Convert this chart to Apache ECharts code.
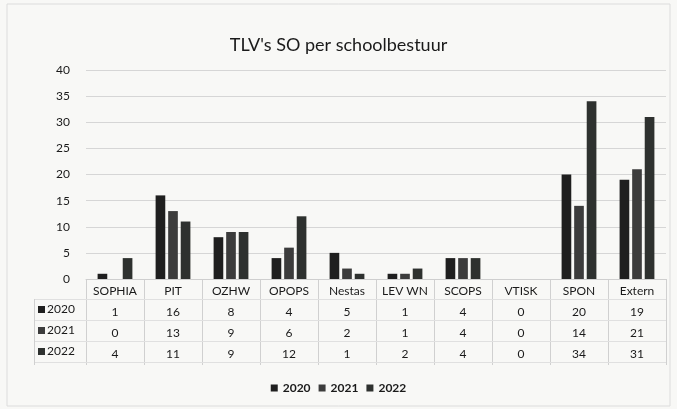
<!DOCTYPE html>
<html lang="nl">
<head>
    <meta charset="UTF-8">
    <title>TLV's SO per schoolbestuur</title>
    <script src="https://cdn.jsdelivr.net/npm/echarts@6/dist/echarts.min.js"></script>
    <style>
        html, body { margin: 0; padding: 0; background: #f8f8f6; }
        #chart { width: 677px; height: 409px; }
    </style>
</head>
<body>
<div id="chart"></div>
<script>
    // data
    const categories = ['SOPHIA', 'PIT', 'OZHW', 'OPOPS', 'Nestas', 'LEV WN', 'SCOPS', 'VTISK', 'SPON', 'Extern'];
    const years = ['2020', '2021', '2022'];
    const v2020 = [1, 16, 8, 4, 5, 1, 4, 0, 20, 19];
    const v2021 = [0, 13, 9, 6, 2, 1, 4, 0, 14, 21];
    const v2022 = [4, 11, 9, 12, 1, 2, 4, 0, 34, 31];
    const yearValues = [v2020, v2021, v2022];
    const colors = ['#1f1f1f', '#3c3c3c', '#2e312f'];

    const font = 'Lato, "Open Sans", sans-serif';
    const rowH = 21;

    const myChart = echarts.init(document.getElementById('chart'));

    const option = {
        backgroundColor: '#f8f8f6',
        animation: false,
        textStyle: { fontFamily: font },
        title: {
            text: "TLV's SO per schoolbestuur",
            left: 'center',
            top: 31,
            textStyle: { fontFamily: font, fontSize: 18, fontWeight: 'normal', color: '#1a1a1a' }
        },
        legend: {
            bottom: 10,
            left: 'center',
            itemWidth: 7,
            itemHeight: 7,
            itemGap: 8,
            icon: 'rect',
            textStyle: { fontFamily: font, fontSize: 12, fontWeight: 'bold', color: '#1a1a1a' },
            data: years
        },
        grid: { left: 86, right: 11, top: 70, bottom: 130 },
        xAxis: {
            type: 'category',
            data: categories,
            axisTick: { show: false },
            axisLine: { lineStyle: { color: '#cfcfcf' } },
            axisLabel: {
                interval: 0,
                margin: 2,
                formatter: function (val, idx) {
                    let s = '{c|' + val + '}';
                    yearValues.forEach(function (arr) { s += '\n{v|' + arr[idx] + '}'; });
                    return s;
                },
                rich: {
                    c: { fontFamily: font, fontSize: 12, color: '#1a1a1a', lineHeight: rowH },
                    v: { fontFamily: font, fontSize: 12, color: '#1a1a1a', lineHeight: rowH }
                }
            }
        },
        yAxis: {
            type: 'value',
            min: 0,
            max: 40,
            interval: 5,
            axisLabel: { fontFamily: font, fontSize: 12, color: '#1a1a1a', margin: 16 },
            splitLine: { lineStyle: { color: '#d6d6d6' } }
        },
        series: years.map(function (y, i) {
            return {
                name: y,
                type: 'bar',
                data: yearValues[i],
                barGap: '30%',
                barCategoryGap: '40%',
                itemStyle: { color: colors[i] }
            };
        })
    };
    myChart.setOption(option);

    // data table lines and row headers, positioned from the category axis
    const x0 = myChart.convertToPixel({ xAxisIndex: 0 }, 0);
    const x1 = myChart.convertToPixel({ xAxisIndex: 0 }, 1);
    const w = x1 - x0;
    const left = x0 - w / 2;
    const right = left + w * categories.length;
    const base = myChart.convertToPixel({ yAxisIndex: 0 }, 0);
    const tableTop = base + rowH - 1;
    const tableBottom = base + rowH * 4 + 2;
    const headLeft = 34;

    const graphics = [];
    graphics.push({
        type: 'rect', silent: true,
        shape: { x: 7, y: 4, width: 663, height: 402 },
        style: { fill: 'none', stroke: '#dcdcdc', lineWidth: 1 }
    });
    for (let i = 0; i <= categories.length; i++) {
        const x = Math.round(left + i * w) + 0.5;
        graphics.push({
            type: 'line', silent: true,
            shape: { x1: x, y1: base, x2: x, y2: tableBottom },
            style: { stroke: '#d0d0d0', lineWidth: 1 }
        });
    }
    for (let r = 0; r <= 3; r++) {
        const y = Math.round(tableTop + r * rowH) + 0.5;
        graphics.push({
            type: 'line', silent: true,
            shape: { x1: headLeft, y1: y, x2: right, y2: y },
            style: { stroke: '#e0e0e0', lineWidth: 1 }
        });
    }
    graphics.push({
        type: 'line', silent: true,
        shape: { x1: headLeft + 0.5, y1: tableTop, x2: headLeft + 0.5, y2: tableBottom },
        style: { stroke: '#d0d0d0', lineWidth: 1 }
    });
    years.forEach(function (y, r) {
        const cy = tableTop + r * rowH + rowH / 2;
        graphics.push({
            type: 'rect', silent: true,
            shape: { x: 38, y: cy - 3.5, width: 7, height: 7 },
            style: { fill: colors[r] }
        });
        graphics.push({
            type: 'text', silent: true,
            x: 47, y: cy,
            style: {
                text: y, fontFamily: font, fontSize: 12, fill: '#1a1a1a',
                verticalAlign: 'middle', align: 'left'
            }
        });
    });
    myChart.setOption({ graphic: graphics });
</script>
</body>
</html>
